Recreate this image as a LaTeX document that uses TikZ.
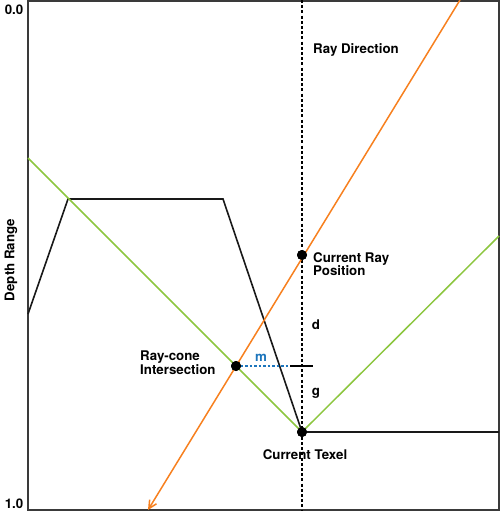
\documentclass[tikz,border=0pt]{standalone}
\usepackage{fontspec}
\setmainfont{TeX Gyre Heros}
\usetikzlibrary{arrows.meta}
\definecolor{rayorange}{HTML}{F7801F}
\definecolor{conegreen}{HTML}{8CC63F}
\definecolor{mblue}{HTML}{1C75BC}
\definecolor{framegray}{HTML}{3A3A3A}
\tikzset{
  lbl/.style={inner sep=0pt,font=\fontsize{13.3}{13.6}\selectfont\bfseries,text=black},
  dot/.style={circle,fill=black,inner sep=0pt,minimum size=10pt},
  surface/.style={line width=1.6pt,black!90,line join=miter},
  cone/.style={line width=1.5pt,conegreen},
  ray/.style={line width=1.5pt,rayorange},
  guide/.style={line width=1.1pt,black,dash pattern=on 3pt off 2.2pt},
}
\begin{document}
\begin{tikzpicture}[x=1pt,y=-1pt]
\useasboundingbox (0,0) rectangle (500,511);
% frame
\draw[line width=2pt,framegray] (28,1) rectangle (499,509.5);
% vertical guide
\coordinate (gtop) at (302,0);
\coordinate (gbot) at (302,511);
\draw[guide] (gtop) -- (gbot);
% surface
\coordinate (s0) at (28,314);
\coordinate (s1) at (68,199);
\coordinate (s2) at (223,199);
\coordinate (s4) at (499,432);
% cone
\coordinate (c0) at (28,158);
\coordinate (c2) at (499,236);
% ray
\coordinate (rtop) at (460,0);
\coordinate (rend) at (148,510);
% dots
\node[dot] (ct) at (302,432) {};
\node[dot] (crp) at (302,255) {};
\node[dot] (rci) at (236,366) {};
\coordinate (tick) at (290,366);
\coordinate (tickend) at (313,366);
\draw[surface] (s0) -- (s1) -- (s2) -- (ct.center) -- (s4);
\draw[cone] (c0) -- (ct.center) -- (c2);
\draw[ray,-{Straight Barb[length=8pt,width=8pt,line width=1.5pt]}] (rtop) -- (rend);
\draw[mblue,line width=1.1pt,dash pattern=on 2.5pt off 2pt] (rci.center) -- (tick);
\draw[black,line width=1.1pt] (tick) -- (tickend);
\node[dot] at (ct) {};
\node[dot] at (crp) {};
\node[dot] at (rci) {};
% labels
\node[lbl] (l00) at (14,10) {0.0};
\node[lbl] (l10) at (14,504) {1.0};
\node[lbl,rotate=90] (ldr) at (11,260) {Depth Range};
\node[lbl,anchor=west] (lrd) at (313,50) {Ray Direction};
\node[lbl,anchor=north west,align=left] (lcrp) at (313,252) {Current Ray\\Position};
\node[lbl,anchor=north west,align=left] (lrci) at (140,351) {Ray-cone\\Intersection};
\node[lbl] (ld) at (316,325) {d};
\node[lbl] (lg) at (316,393) {g};
\node[lbl,text=mblue] (lm) at (261,358) {m};
\node[lbl] (lct) at (305,455) {Current Texel};
\end{tikzpicture}
\end{document}
